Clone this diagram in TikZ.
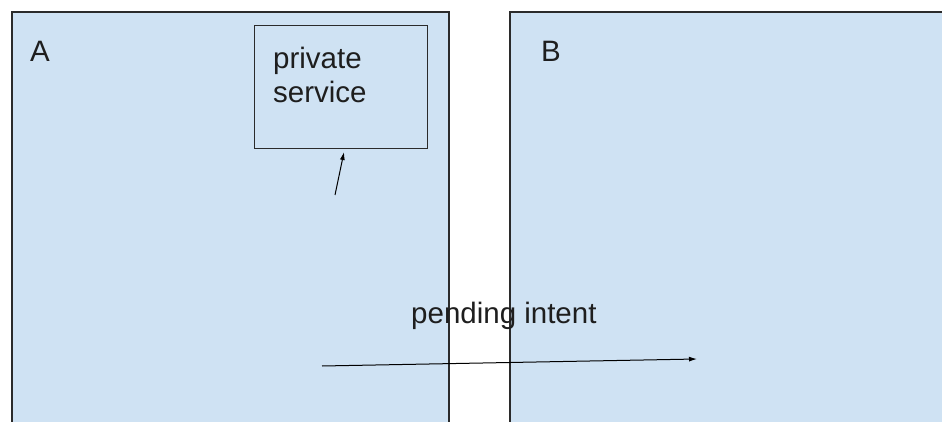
\documentclass[tikz,border=0pt]{standalone}
\usepackage{fontspec}
\setmainfont{Liberation Sans}
\usetikzlibrary{arrows.meta}
\definecolor{paneblue}{HTML}{CFE2F3}
\definecolor{edgegrey}{HTML}{2B2B2B}
\definecolor{inkgrey}{HTML}{1E1E1E}
\tikzset{
  pane/.style={draw=edgegrey, line width=1.6pt, fill=paneblue, anchor=north west, inner sep=0pt},
  svcbox/.style={draw=edgegrey, line width=1.3pt, anchor=north west, inner sep=0pt,
    minimum width=173pt, minimum height=123pt},
  label/.style={anchor=base west, inner sep=0pt, text=inkgrey,
    font=\fontsize{29.5}{31}\selectfont},
  flow/.style={draw=black, line width=1pt, -{Latex[length=8pt,width=5pt]}}
}
\begin{document}
\begin{tikzpicture}[x=1pt,y=-1pt]
  \useasboundingbox (0,0) rectangle (942,422);
  \clip (0,0) rectangle (942,422);
  \fill[white] (0,0) rectangle (942,422);

  % the two application panes (open at the bottom and right)
  \node (paneA) [pane, minimum width=437pt, minimum height=430pt] at (11,11) {};
  \node (paneB) [pane, minimum width=450pt, minimum height=430pt] at (509,11) {};

  \node (nameA) [label] at (30,62) {A};
  \node (nameB) [label] at (541,62) {B};

  % private service inside A
  \node (svc) [svcbox] at (254,25) {};
  \node (svcTop) [label] at (273,69) {private};
  \node (svcBot) [label] at (273,103) {service};

  \coordinate (callFrom) at (335,195);
  \coordinate (callTo) at (344,152);
  \draw[flow] (callFrom) -- (callTo);

  % pending intent crossing from A into B
  \node (intentText) [label] at (411,323) {pending intent};
  \coordinate (intentFrom) at (322,366);
  \coordinate (intentTo) at (697,359);
  \draw[flow] (intentFrom) -- (intentTo);
\end{tikzpicture}
\end{document}
